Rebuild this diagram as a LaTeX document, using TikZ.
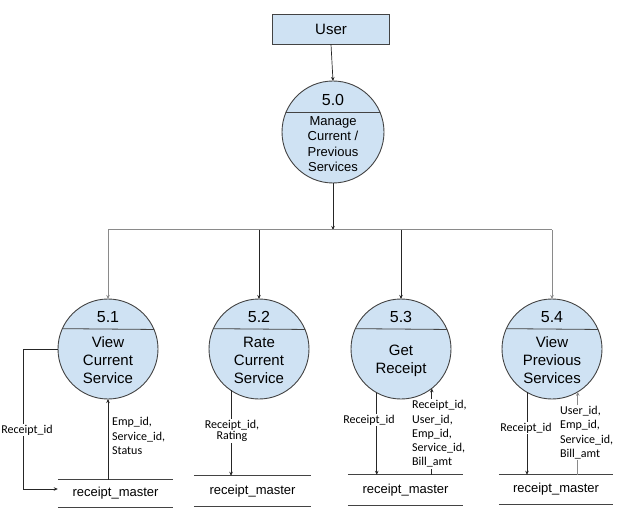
\documentclass[tikz,border=0pt]{standalone}
\usepackage{fontspec}
\setmainfont{Liberation Sans}
\newfontfamily\labelfont{Carlito}
\usetikzlibrary{calc,arrows.meta}

\definecolor{procfill}{HTML}{CFE2F3}
\definecolor{procline}{HTML}{434343}
\definecolor{busline}{HTML}{8A8A8A}

\tikzset{
  process/.style={circle, draw=procline, line width=0.9pt, fill=procfill,
    minimum size=100pt, inner sep=0pt, outer sep=0pt},
  entity/.style={rectangle, draw=procline, line width=0.9pt, fill=procfill,
    minimum width=117pt, minimum height=30pt, inner sep=0pt,
    font=\fontsize{15}{18}\selectfont},
  pnum/.style={font=\fontsize{16}{18}\selectfont, inner sep=0pt},
  ptext/.style={font=\fontsize{15}{18}\selectfont, align=center, inner sep=0pt},
  storebox/.style={rectangle, minimum height=30pt, inner sep=0pt,
    font=\fontsize{13}{15}\selectfont},
  storeline/.style={draw=procline, line width=0.8pt},
  flow/.style={draw=black!85, line width=0.7pt,
    -{Stealth[length=4pt,width=3.5pt]}},
  bus/.style={draw=busline, line width=1pt},
  flowlabel/.style={font=\labelfont\fontsize{12}{14.3}\selectfont,
    inner sep=1pt},
}

\begin{document}
\begin{tikzpicture}[x=1pt,y=-1pt]
\useasboundingbox (0,0) rectangle (642,529);

% external entity
\node[entity, minimum width=117pt] (user) at (331,29) {User};

% top-level process
\node[process, minimum size=102pt] (p50) at (333,132) {};
\draw[procline, line width=0.8pt] (p50.158) -- (p50.22);
\node[pnum] (p50n) at (333,100) {5.0};
\node[ptext, font=\fontsize{13}{15.5}\selectfont] (p50t) at (333,144)
  {Manage\\Current /\\Previous\\Services};

% sub-processes
\foreach \name/\x/\num/\txt/\dy in {
    p51/108/5.1/{View\\Current\\Service}/11,
    p52/259/5.2/{Rate\\Current\\Service}/11,
    p53/401/5.3/{Get\\Receipt}/12,
    p54/552/5.4/{View\\Previous\\Services}/11} {
  \node[process] (\name) at (\x,349) {};
  \draw[procline, line width=0.8pt] (\name.156.4) -- (\name.23.6);
  \node[pnum] (\name n) at (\x,317) {\num};
  \node[ptext] (\name t) at (\x,349+\dy) {\txt};
}

% data stores
\foreach \name/\x/\y/\w/\h in {
    s1/115.5/493.5/115/27,
    s2/252.5/491/117/30,
    s3/405.5/490/115/30,
    s4/556/489.5/114/29} {
  \node[storebox, minimum width=\w pt, minimum height=\h pt] (\name) at (\x,\y) {receipt\_master};
  \draw[storeline] (\name.north west) -- (\name.north east)
                   (\name.south west) -- (\name.south east);
}

% distribution from 5.0 to the sub-processes
\coordinate (bus0) at (333,230);
\coordinate (bus1) at (108,230);
\coordinate (bus2) at (259,230);
\coordinate (bus3) at (401,230);
\coordinate (bus4) at (552,230);
\draw[flow] (user.south) -- (p50.north);
\draw[flow] (p50.south) -- (bus0);
\draw[bus] (bus1) -- (bus4);
\draw[flow, draw=busline] (bus1) -- (p51.north);
\draw[flow] (bus2) -- (p52.north);
\draw[flow] (bus3) -- (p53.north);
\draw[flow, draw=busline] (bus4) -- (p54.north);

% 5.1 View Current Service
\coordinate (l1) at (23,489);
\draw[flow] (p51.west) -| (l1) -- (l1 -| s1.west);
\node[flowlabel, fill=white] (f1a) at (27,430) {Receipt\_id};
\draw[flow] (p51.south |- s1.north) -- (p51.south);
\node[flowlabel, anchor=west, align=left] (f1b) at (111,436)
  {Emp\_id,\\Service\_id,\\Status};

% 5.2 Rate Current Service
\draw[flow] (p52.236) -- (p52.236 |- s2.north);
\node[flowlabel, fill=white, align=center, font=\labelfont\fontsize{12}{11.5}\selectfont]
  (f2a) at (232,431) {Receipt\_id,\\Rating};

% 5.3 Get Receipt
\draw[flow] (p53.241.3) -- (p53.241.3 |- s3.north);
\node[flowlabel, fill=white] (f3a) at (369,420) {Receipt\_id};
\draw[flow] (p53.308.3 |- s3.north) -- (p53.308.3);
\node[flowlabel, fill=white, anchor=west, align=left] (f3b) at (411,434)
  {Receipt\_id,\\User\_id,\\Emp\_id,\\Service\_id,\\Bill\_amt};

% 5.4 View Previous Services
\draw[flow] (p54.240) -- (p54.240 |- s4.north);
\node[flowlabel, fill=white] (f4a) at (526,428) {Receipt\_id};
\draw[flow, draw=busline] (p54.301.3 |- s4.north) -- (p54.301.3);
\node[flowlabel, fill=white, anchor=west, align=left] (f4b) at (559,432.5)
  {User\_id,\\Emp\_id,\\Service\_id,\\Bill\_amt};
\end{tikzpicture}
\end{document}
